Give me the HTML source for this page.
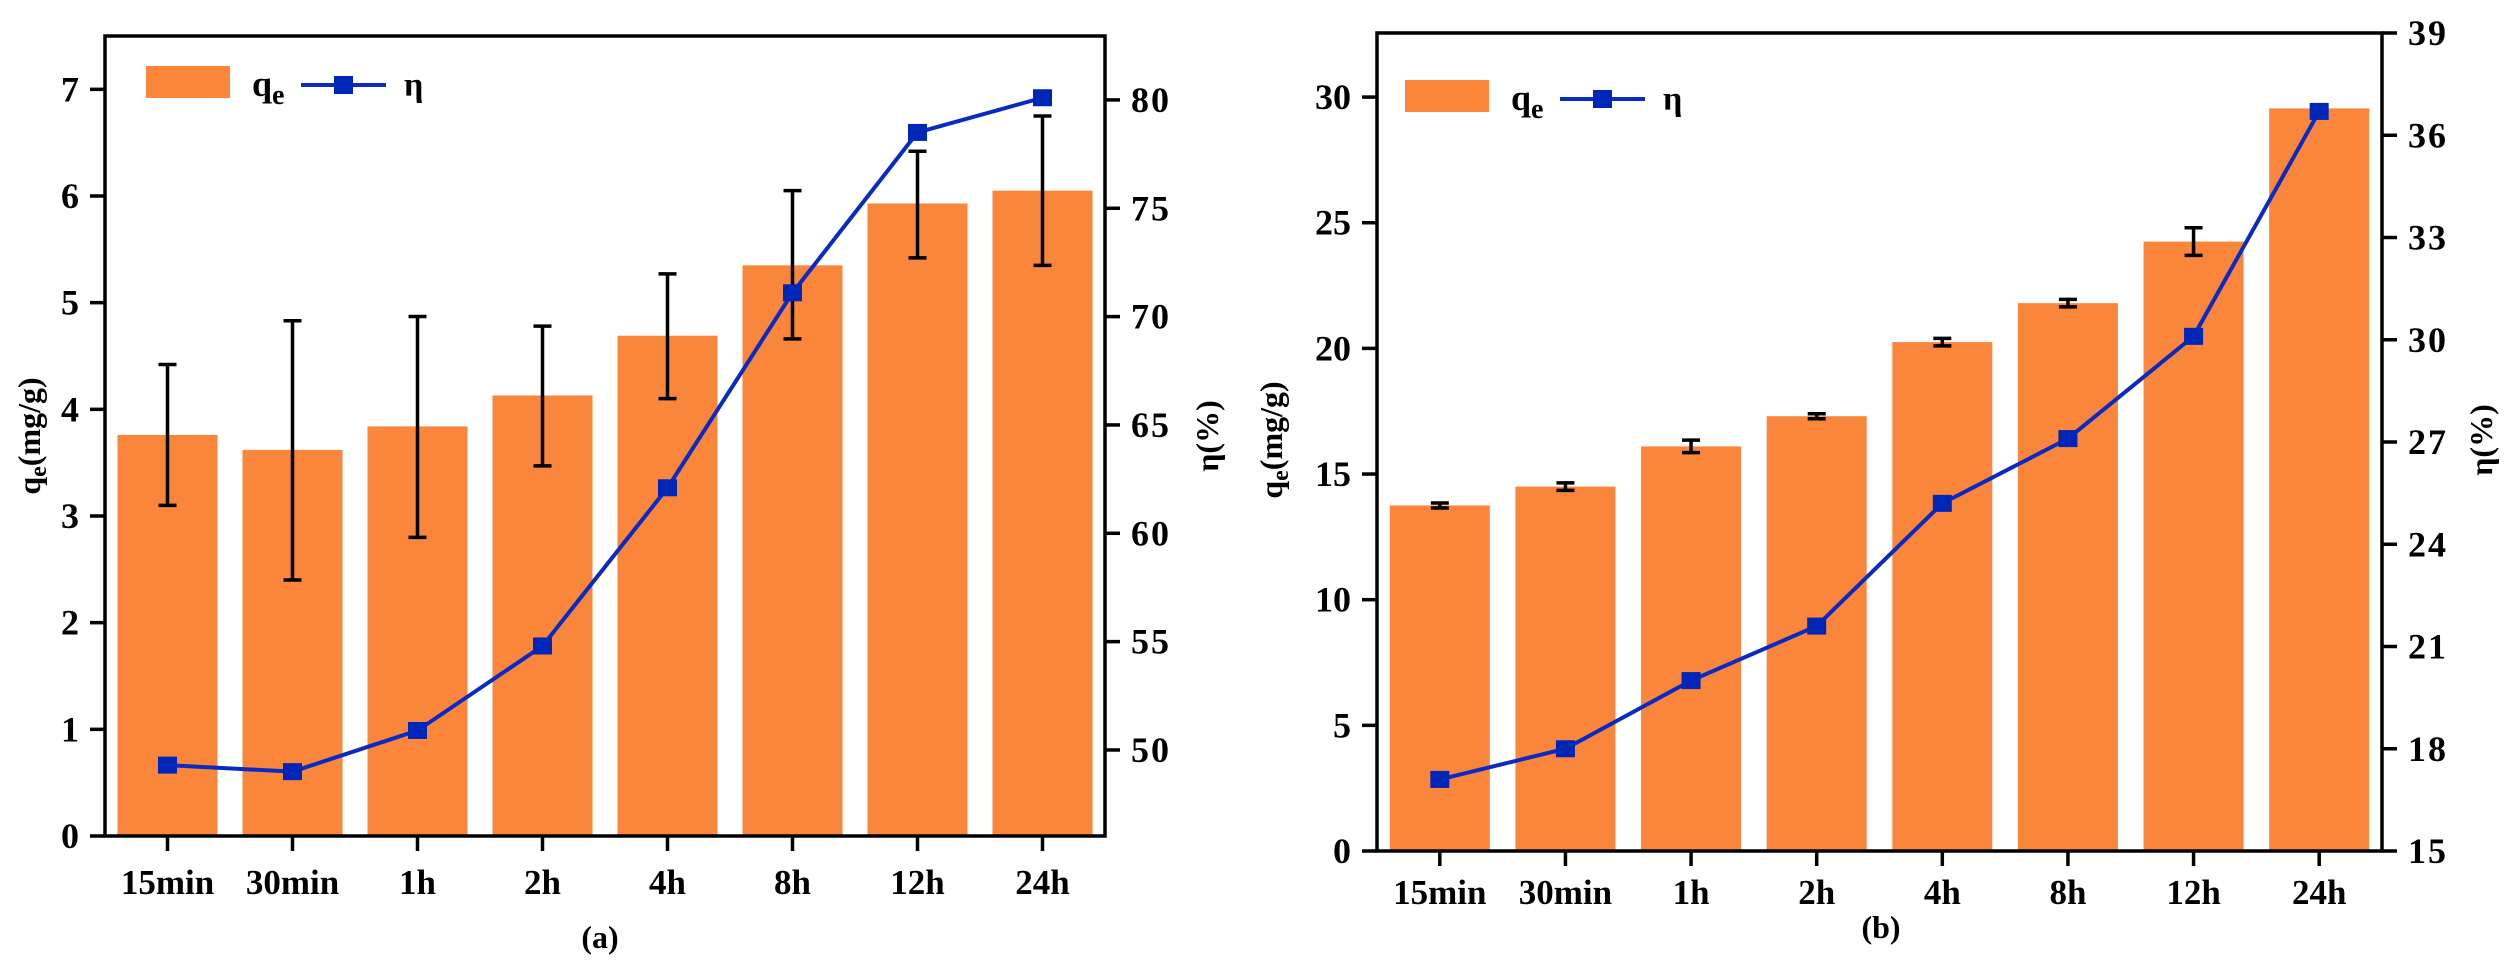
<!DOCTYPE html>
<html><head><meta charset="utf-8"><style>
html,body{margin:0;padding:0;background:#fff;}
svg{display:block;font-family:"Liberation Serif",serif;font-weight:bold;}
</style></head><body>
<svg id="fig" width="2519" height="961" viewBox="0 0 2519 961" xmlns="http://www.w3.org/2000/svg"></svg>
<script>
const categories = ["15min","30min","1h","2h","4h","8h","12h","24h"];
// chart (a)
const qeA = [3.76,3.62,3.84,4.13,4.69,5.35,5.93,6.05];
const qeAErrLow = [3.10,2.40,2.80,3.47,4.10,4.66,5.42,5.35];
const qeAErrHigh = [4.42,4.83,4.87,4.78,5.27,6.05,6.42,6.75];
const etaA = [49.3,49.0,50.9,54.8,62.1,71.1,78.5,80.1];
const leftTicksA = [0,1,2,3,4,5,6,7];
const rightTicksA = [50,55,60,65,70,75,80];
// chart (b)
const qeB = [13.75,14.5,16.1,17.3,20.25,21.8,24.25,29.55];
const qeBErrLow = [13.65,14.35,15.85,17.2,20.1,21.65,23.7,29.45];
const qeBErrHigh = [13.85,14.65,16.35,17.4,20.4,21.95,24.8,29.65];
const etaB = [17.1,18.0,20.0,21.6,25.2,27.1,30.1,36.7];
const leftTicksB = [0,5,10,15,20,25,30];
const rightTicksB = [15,18,21,24,27,30,33,36,39];

const NS="http://www.w3.org/2000/svg";
const svg=document.getElementById('fig');
function mk(tag,attrs,parent,text){
  const e=document.createElementNS(NS,tag);
  for(const k in attrs)e.setAttribute(k,attrs[k]);
  if(text!==undefined)e.textContent=text;
  (parent||svg).appendChild(e);return e;
}
const ORANGE="#F9863A", BLUE="#0A2AC4", MBLUE="#0026B8";

function chart(cfg){
  const g=mk('g',{});
  
  
  const {L,R,T,B}=cfg;
  const step=(R-L)/categories.length;
  const xc=i=>L+step/2+i*step;
  const yL=v=>B-(v-cfg.lmin)/(cfg.lmax-cfg.lmin)*(B-T);
  const yR=v=>B-(v-cfg.rmin)/(cfg.rmax-cfg.rmin)*(B-T);
  cfg.qe.forEach((v,i)=>{
    const r=mk('rect',{x:xc(i)-50,y:yL(v),width:100,height:B-yL(v),fill:ORANGE},g);
    
    
  });
  cfg.qe.forEach((v,i)=>{
    const eg=mk('g',{stroke:'#000','stroke-width':3.5},g);
    
    
    const x=xc(i),y1=yL(cfg.lo[i]),y2=yL(cfg.hi[i]);
    mk('line',{x1:x,x2:x,y1:y1,y2:y2},eg);
    mk('line',{x1:x-9,x2:x+9,y1:y1,y2:y1},eg);
    mk('line',{x1:x-9,x2:x+9,y1:y2,y2:y2},eg);
  });
  const pts=cfg.eta.map((v,i)=>xc(i)+','+yR(v)).join(' ');
  const pl=mk('polyline',{points:pts,fill:'none',stroke:BLUE,'stroke-width':4},g);
  
  
  cfg.eta.forEach((v,i)=>{
    const m=mk('rect',{x:xc(i)-9.5,y:yR(v)-8.5,width:19,height:17,fill:MBLUE},g);
    
    
  });
  const fr=mk('rect',{x:L,y:T,width:R-L,height:B-T,fill:'none',stroke:'#000','stroke-width':3.5},g);
  
  
  cfg.lt.forEach(v=>{
    mk('line',{x1:L-15,x2:L,y1:yL(v),y2:yL(v),stroke:'#000','stroke-width':3.5},g);
    const t=mk('text',{x:L-26,y:yL(v)+12,'text-anchor':'end','font-size':36},g,String(v));
    
    
  });
  cfg.rt.forEach(v=>{
    mk('line',{x1:R,x2:R+15,y1:yR(v),y2:yR(v),stroke:'#000','stroke-width':3.5},g);
    const t=mk('text',{x:R+26,y:yR(v)+12,'text-anchor':'start','font-size':36,'letter-spacing':'2'},g,String(v));
    
    
  });
  categories.forEach((c,i)=>{
    mk('line',{x1:xc(i),x2:xc(i),y1:B,y2:B+15,stroke:'#000','stroke-width':3.5},g);
    const t=mk('text',{x:xc(i),y:cfg.xly,'text-anchor':'middle','font-size':35},g,c);
    
    
  });
  const lg=mk('g',{},g);
  
  
  const lx=cfg.legX, ly=cfg.legY;
  mk('rect',{x:lx,y:ly,width:84,height:32,fill:ORANGE},lg);
  const qt=mk('text',{x:lx+106,y:ly+30,'font-size':36},lg);
  mk('tspan',{},qt,'q');
  mk('tspan',{'font-size':28,dy:8},qt,'e');
  mk('line',{x1:lx+155,x2:lx+240,y1:ly+19,y2:ly+19,stroke:BLUE,'stroke-width':4},lg);
  mk('rect',{x:lx+188,y:ly+10,width:19,height:18,fill:MBLUE},lg);
  mk('text',{x:lx+258,y:ly+30,'font-size':34},lg,'η');
  const yt=mk('text',{transform:`translate(${cfg.ytX},${cfg.ytY}) rotate(-90)`,'text-anchor':'middle','font-size':32},g);
  
  
  mk('tspan',{},yt,'q');mk('tspan',{'font-size':24,dy:6},yt,'e');mk('tspan',{dy:-6},yt,'(mg/g)');
  const rt=mk('text',{transform:`translate(${cfg.rtX},${cfg.ytY}) rotate(-90)`,'text-anchor':'middle','font-size':32},g,'η(%)');
  
  
  const pt=mk('text',{x:cfg.capX,y:cfg.capY,'text-anchor':'middle','font-size':32},g,cfg.cap);
  
  
}

chart({name:'chart-a',L:105,R:1105,T:36,B:836,lmin:0,lmax:7.5,rmin:46.03,rmax:82.95,
  qe:qeA,lo:qeAErrLow,hi:qeAErrHigh,eta:etaA,lt:leftTicksA,rt:rightTicksA,xly:894,
  legX:146,legY:66,ytX:40,ytY:436,rtX:1218,capX:600,capY:948,cap:'(a)'});
chart({name:'chart-b',L:1377,R:2382,T:33,B:851,lmin:0,lmax:32.55,rmin:15,rmax:39,
  qe:qeB,lo:qeBErrLow,hi:qeBErrHigh,eta:etaB,lt:leftTicksB,rt:rightTicksB,xly:904,
  legX:1405,legY:80,ytX:1282,ytY:440,rtX:2492,capX:1881,capY:938,cap:'(b)'});
</script>
</body></html>
